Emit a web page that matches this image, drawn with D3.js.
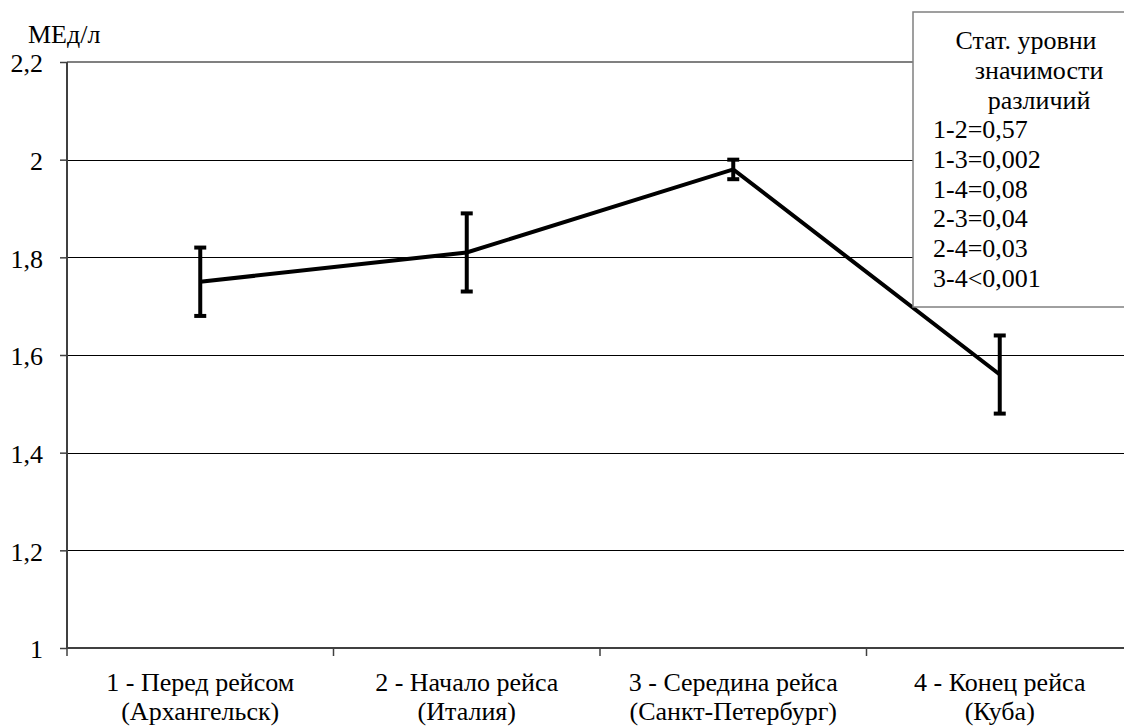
<!DOCTYPE html>
<html>
<head>
<meta charset="utf-8">
<script src="https://cdn.jsdelivr.net/npm/d3@7/dist/d3.min.js"></script>
<style>
  body { margin: 0; background: #fff; overflow: hidden; }
</style>
</head>
<body>
<div id="container"></div>
<script>
  // stages of the voyage
  const categories = [
    ["1 - Перед рейсом", "(Архангельск)"],
    ["2 - Начало рейса", "(Италия)"],
    ["3 - Середина рейса", "(Санкт-Петербург)"],
    ["4 - Конец рейса", "(Куба)"]
  ];
  const means = [1.75, 1.81, 1.98, 1.56];
  const errors = [0.07, 0.08, 0.02, 0.08];
  const yTicks = [1, 1.2, 1.4, 1.6, 1.8, 2, 2.2];
  const legendTitle = ["Стат. уровни", "значимости", "различий"];
  const legendLines = ["1-2=0,57", "1-3=0,002", "1-4=0,08", "2-3=0,04", "2-4=0,03", "3-4<0,001"];

  const FONT = "Liberation Serif";
  const FS = 26;

  const W = 1124, H = 726;
  const margin = { left: 67, top: 62, right: -9, bottom: 78 };
  const width = W - margin.left - margin.right;
  const height = H - margin.top - margin.bottom;

  const svg = d3.select("#container").append("svg")
    .attr("width", W).attr("height", H)
    .attr("font-family", FONT);

  const g = svg.append("g")
    .attr("transform", "translate(" + margin.left + "," + margin.top + ")");

  const x = d3.scaleBand().domain(d3.range(categories.length)).range([0, width]);
  const y = d3.scaleLinear().domain([1, 2.2]).range([height, 0]);
  const cx = i => x(i) + x.bandwidth() / 2;

  // gridlines
  g.append("g")
    .selectAll("line").data(yTicks.slice(1, -1)).join("line")
    .attr("x1", 0).attr("x2", width)
    .attr("y1", d => Math.round(y(d)) + 0.5).attr("y2", d => Math.round(y(d)) + 0.5)
    .attr("stroke", "#000").attr("stroke-width", 1).attr("shape-rendering", "crispEdges");

  // plot border top / right
  g.append("path")
    .attr("d", "M0," + y(2.2) + "H" + width + "V" + height)
    .attr("fill", "none").attr("stroke", "#808080").attr("stroke-width", 2);

  // y axis
  const yAxis = g.append("g")
    .call(d3.axisLeft(y).tickValues(yTicks).tickSize(7).tickPadding(17)
      .tickFormat(d => d3.format(".1~f")(d).replace(".", ",")));
  yAxis.attr("font-family", FONT).attr("font-size", FS);
  yAxis.select(".domain").attr("d", "M0," + y(2.2) + "V" + height)
    .attr("stroke", "#404040").attr("stroke-width", 2);
  yAxis.selectAll(".tick line").attr("stroke", "#404040").attr("stroke-width", 1.5);
  yAxis.selectAll("text").attr("fill", "#000").attr("dy", null)
    .attr("y", 1 + 0.338 * FS)
    .attr("font-family", FONT).attr("font-size", FS);

  // x axis with ticks between categories
  const xAxis = g.append("g")
    .attr("transform", "translate(0," + height + ")");
  xAxis.append("line").attr("x1", 0).attr("x2", width).attr("y1", 0).attr("y2", 0)
    .attr("stroke", "#404040").attr("stroke-width", 2);
  xAxis.selectAll("line.tick").data(d3.range(categories.length + 1)).join("line")
    .attr("class", "tick")
    .attr("x1", d => d * x.bandwidth()).attr("x2", d => d * x.bandwidth())
    .attr("y1", 0).attr("y2", 8).attr("stroke", "#404040").attr("stroke-width", 1.5);

  const labels = xAxis.selectAll("text.lbl").data(categories).join("text")
    .attr("class", "lbl")
    .attr("text-anchor", "middle")
    .attr("font-family", FONT)
    .attr("font-size", FS)
    .attr("x", (d, i) => cx(i));
  labels.selectAll("tspan").data(d => d).join("tspan")
    .attr("x", function () { return this.parentNode.getAttribute("x"); })
    .attr("y", (d, i) => 43 + i * 29)
    .text(d => d);

  // error bars
  const eb = g.append("g").attr("stroke", "#000").attr("stroke-width", 4);
  eb.selectAll("line.v").data(means).join("line")
    .attr("x1", (d, i) => cx(i)).attr("x2", (d, i) => cx(i))
    .attr("y1", (d, i) => y(d + errors[i])).attr("y2", (d, i) => y(d - errors[i]));
  eb.selectAll("line.cap").data(means.flatMap((d, i) => [[i, d + errors[i]], [i, d - errors[i]]]))
    .join("line")
    .attr("x1", d => cx(d[0]) - 6).attr("x2", d => cx(d[0]) + 6)
    .attr("y1", d => y(d[1])).attr("y2", d => y(d[1]));

  // mean line
  g.append("path")
    .datum(means)
    .attr("fill", "none").attr("stroke", "#000").attr("stroke-width", 4)
    .attr("d", d3.line().x((d, i) => cx(i)).y(d => y(d)));

  // unit label
  svg.append("text").attr("x", 28).attr("y", 43)
    .attr("font-family", FONT).attr("font-size", FS).text("МЕд/л");

  // legend box
  const lg = svg.append("g");
  lg.append("rect")
    .attr("x", 913).attr("y", 12).attr("width", 240).attr("height", 295)
    .attr("fill", "#fff").attr("stroke", "#808080").attr("stroke-width", 1.5);
  const titleCenters = [1026, 1039, 1039];
  lg.selectAll("text.t").data(legendTitle).join("text")
    .attr("class", "t").attr("font-family", FONT).attr("font-size", FS).attr("text-anchor", "middle")
    .attr("x", (d, i) => titleCenters[i]).attr("y", (d, i) => 49.2 + i * 29.7).text(d => d);
  lg.selectAll("text.v").data(legendLines).join("text")
    .attr("class", "v").attr("font-family", FONT).attr("font-size", FS)
    .attr("x", 933).attr("y", (d, i) => 138.3 + i * 29.7).text(d => d);
</script>
</body>
</html>
